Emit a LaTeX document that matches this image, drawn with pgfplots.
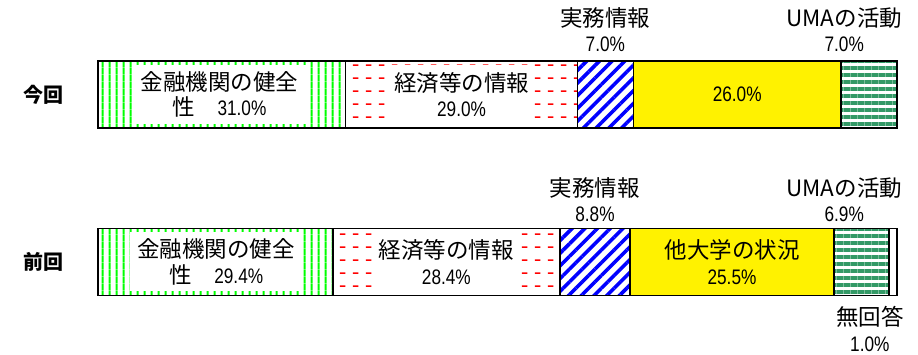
\documentclass[border=0pt]{standalone}
\usepackage{fontspec}
\setmainfont{Noto Sans CJK JP}
\newfontfamily\num{Liberation Sans}[FakeStretch=0.82]
\usepackage{pgfplots}
\pgfplotsset{compat=1.18}
\usetikzlibrary{patterns,patterns.meta}
\definecolor{seag}{RGB}{51,153,102}
\pgfdeclarepatternformonly{reddash}{\pgfpoint{0bp}{0bp}}{\pgfpoint{13bp}{12.6bp}}{\pgfpoint{13bp}{12.6bp}}{%
  \pgfsetlinewidth{1.6bp}%
  \pgfpathmoveto{\pgfpoint{2bp}{6bp}}\pgfpathlineto{\pgfpoint{8bp}{6bp}}\pgfusepath{stroke}}
\tikzset{
  lbl/.style={font=\fontsize{22.5bp}{25.5bp}\selectfont, align=center, inner sep=0pt},
  box/.style={lbl, fill=white, minimum height=59bp},
}
\newcommand\n[1]{{\num\fontsize{21bp}{25.5bp}\selectfont #1}}
\begin{document}
\begin{tikzpicture}
\begin{axis}[
  xbar stacked, scale only axis, width=918bp, height=355bp,
  xmin=-12.265, xmax=102.63, ymin=0, ymax=355,
  hide axis, bar width=67bp, clip=false,
]
\addplot[draw=black, line width=1.6bp, pattern={Lines[angle=90,distance=6.8bp,line width=2bp]}, pattern color=green]
  coordinates {(31.0,260.5) (29.4,93)};
\addplot[draw=black, line width=1.6bp, pattern=reddash, pattern color=red]
  coordinates {(29.0,260.5) (28.4,93)};
\addplot[draw=black, line width=1.6bp, pattern={Lines[angle=45,distance=9bp,line width=3.6bp]}, pattern color=blue]
  coordinates {(7.0,260.5) (8.8,93)};
\addplot[draw=black, line width=1.6bp, fill=yellow]
  coordinates {(26.0,260.5) (25.5,93)};
\addplot[draw=black, line width=1.6bp, pattern={Lines[angle=0,distance=7bp,line width=3.8bp]}, pattern color=seag]
  coordinates {(7.0,260.5) (6.9,93)};
\addplot[draw=black, line width=1.6bp, fill=white]
  coordinates {(0,260.5) (1.0,93)};

\coordinate (L1) at (axis cs:-6.88,260.5);
\coordinate (L2) at (axis cs:-6.88,93);
\coordinate (A1) at (axis cs:15.2,260.5);
\coordinate (A2) at (axis cs:45.5,260.5);
\coordinate (A4) at (axis cs:80,260.5);
\coordinate (A3) at (axis cs:63.5,325.5);
\coordinate (A5) at (axis cs:93.4,325.5);
\coordinate (B1) at (axis cs:14.8,93);
\coordinate (B2) at (axis cs:43.6,93);
\coordinate (B4) at (axis cs:79.35,93);
\coordinate (B3) at (axis cs:62.2,155.5);
\coordinate (B5) at (axis cs:93.4,155.5);
\coordinate (B6) at (axis cs:96.6,26);
\path (rel axis cs:0,0) rectangle (rel axis cs:1,1);
\end{axis}
\node[lbl, font=\fontsize{20bp}{25bp}\selectfont\bfseries] at (L1) {今回};
\node[lbl, font=\fontsize{20bp}{25bp}\selectfont\bfseries] at (L2) {前回};
\node[box, minimum width=175bp] at (A1) {金融機関の健全\\性　\n{31.0\%}};
\node[box, minimum width=143bp] at (A2) {経済等の情報\\\n{29.0\%}};
\node[lbl] at (A4) {\n{26.0\%}};
\node[lbl] at (A3) {実務情報\\\n{7.0\%}};
\node[lbl] at (A5) {UMAの活動\\\n{7.0\%}};
\node[box, minimum width=173bp] at (B1) {金融機関の健全\\性　\n{29.4\%}};
\node[box, minimum width=143bp] at (B2) {経済等の情報\\\n{28.4\%}};
\node[lbl] at (B4) {他大学の状況\\\n{25.5\%}};
\node[lbl] at (B3) {実務情報\\\n{8.8\%}};
\node[lbl] at (B5) {UMAの活動\\\n{6.9\%}};
\node[lbl] at (B6) {無回答\\\n{1.0\%}};
\end{tikzpicture}
\end{document}
